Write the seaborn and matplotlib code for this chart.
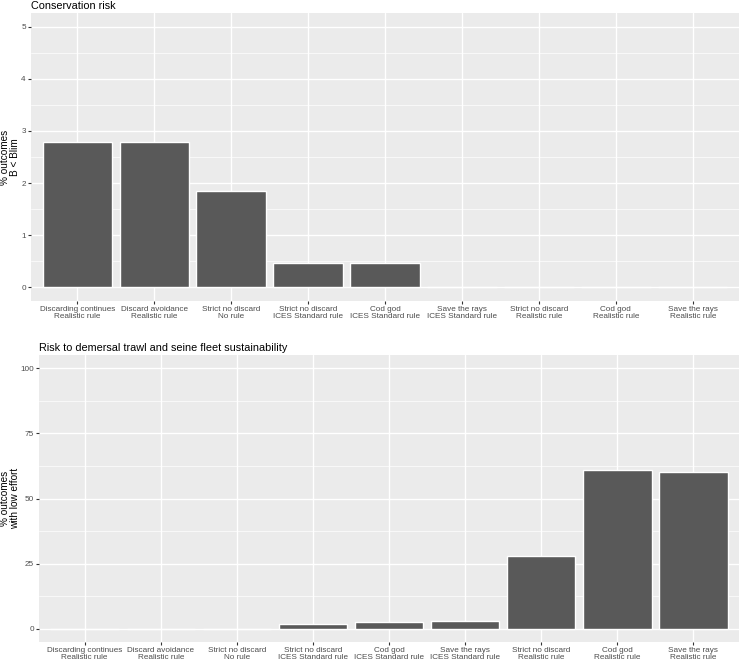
import matplotlib
matplotlib.use("Agg")
import matplotlib.pyplot as plt
import seaborn as sns
import pandas as pd
import numpy as np

scenarios = ["Discarding continues\nRealistic rule", "Discard avoidance\nRealistic rule",
             "Strict no discard\nNo rule", "Strict no discard\nICES Standard rule",
             "Cod god\nICES Standard rule", "Save the rays\nICES Standard rule",
             "Strict no discard\nRealistic rule", "Cod god\nRealistic rule",
             "Save the rays\nRealistic rule"]
blim_risk = [2.78, 2.78, 1.85, 0.46, 0.46, 0, 0, 0, 0]
low_effort_risk = [0, 0, 0, 1.85, 2.78, 3.24, 27.8, 61.1, 60.2]

conservation_df = pd.DataFrame({"scenario": scenarios, "pct": blim_risk})
effort_df = pd.DataFrame({"scenario": scenarios, "pct": low_effort_risk})

sns.set_theme(style="darkgrid", rc={"axes.facecolor": "#EBEBEB", "grid.color": "white"})
plt.rcParams['font.family'] = ['Liberation Sans', 'DejaVu Sans']

W, H = 741, 662
fig = plt.figure(figsize=(W / 100, H / 100), dpi=100)
ax1 = fig.add_axes([31 / W, (H - 301) / H, 708 / W, 288 / H])
ax2 = fig.add_axes([39 / W, (H - 642) / H, 700 / W, 287 / H])


def gg_panel(ax, df, title, ylab, ylim, major, minor, ylab_y):
    sns.barplot(data=df, x="scenario", y="pct", color="#595959", width=0.9,
                saturation=1, ax=ax, zorder=3)
    ax.set_xlim(-0.6, len(scenarios) - 0.4)
    ax.set_ylim(*ylim)
    ax.set_yticks(major)
    ax.set_yticks(minor, minor=True)
    ax.set_yticklabels([str(v) for v in major])
    ax.grid(which="major", color="white", linewidth=1.0, zorder=0)
    ax.grid(which="minor", axis="y", color="white", linewidth=0.5, zorder=0)
    ax.set_axisbelow(True)
    for s in ax.spines.values():
        s.set_visible(False)
    ax.tick_params(axis="both", which="major", length=2.5, width=0.8, color="#333333",
                   labelsize=5.9, labelcolor="#4D4D4D", pad=1.2, left=True, bottom=True)
    ax.tick_params(axis="y", which="minor", length=0)
    for lbl in ax.get_xticklabels():
        lbl.set_linespacing(1.05)
    ax.set_xlabel("")
    ax.set_ylabel("")
    fig.text(10 / W, ylab_y, ylab, rotation=90, ha="center", va="center",
             fontsize=7.2, color="black", linespacing=1.0)
    ax.set_title(title, loc="left", fontsize=7.8, color="black", pad=3)


gg_panel(ax1, conservation_df, "Conservation risk", "% outcomes\nB < Blim",
         (-0.26, 5.26), [0, 1, 2, 3, 4, 5], [0.5, 1.5, 2.5, 3.5, 4.5],
         (H - 157) / H)
gg_panel(ax2, effort_df, "Risk to demersal trawl and seine fleet sustainability",
         "% outcomes\nwith low effort", (-5, 105), [0, 25, 50, 75, 100],
         [12.5, 37.5, 62.5, 87.5], (H - 498) / H)

fig.savefig("out.png", dpi=100, facecolor="white")
